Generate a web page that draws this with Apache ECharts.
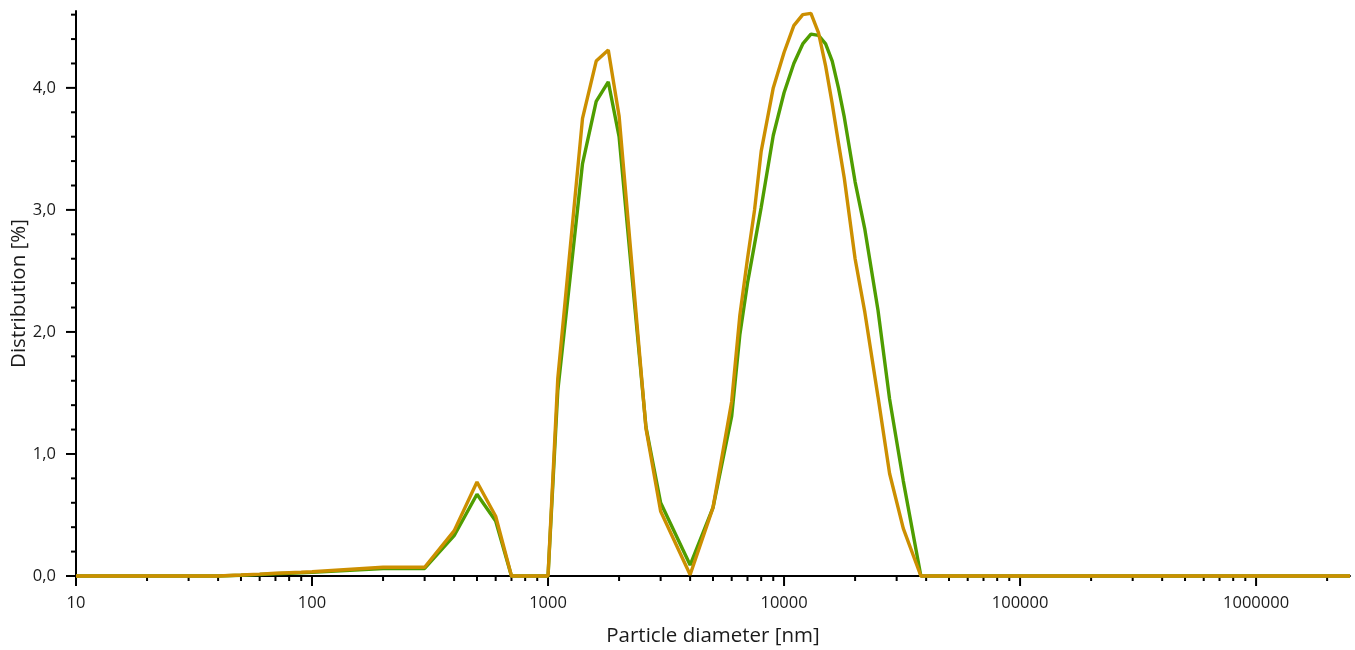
<!DOCTYPE html>
<html>
<head>
<meta charset="utf-8">
<script src="https://cdn.jsdelivr.net/npm/echarts@6/dist/echarts.min.js"></script>
<style>
html,body{margin:0;padding:0;background:#fff;}
#chart{width:1355px;height:650px;}
</style>
</head>
<body>
<div id="chart"></div>
<script>
// Particle diameters [nm]
const sizes = [10, 20, 30, 40, 50, 60, 70, 80, 90, 100, 200, 300, 400, 500, 600, 700, 800, 900, 1000,
  1100, 1400, 1600, 1800, 2000, 2600, 3000, 4000, 5000, 6000, 6500, 7000, 7500, 8000, 9000,
  10000, 11000, 12000, 13000, 14000, 15000, 16000, 17000, 18000, 20000, 22000, 25000, 28000, 32000, 38000,
  100000, 1000000, 2500000];

// Distribution [%] - green series
const greenValues = [0, 0, 0, 0, 0.006, 0.012, 0.018, 0.022, 0.026, 0.03, 0.062, 0.062, 0.33, 0.67, 0.45, 0, 0, 0, 0,
  1.52, 3.38, 3.89, 4.05, 3.60, 1.22, 0.60, 0.09, 0.56, 1.31, 1.98, 2.40, 2.72, 3.02, 3.61,
  3.96, 4.20, 4.36, 4.44, 4.43, 4.36, 4.22, 4.00, 3.76, 3.23, 2.84, 2.18, 1.45, 0.78, 0,
  0, 0, 0];

// Distribution [%] - orange series
const orangeValues = [0, 0, 0, 0, 0.008, 0.015, 0.022, 0.027, 0.031, 0.035, 0.072, 0.072, 0.37, 0.77, 0.49, 0, 0, 0, 0,
  1.62, 3.75, 4.22, 4.31, 3.77, 1.21, 0.53, 0.01, 0.56, 1.43, 2.14, 2.60, 3.00, 3.48, 4.00,
  4.29, 4.51, 4.60, 4.61, 4.45, 4.18, 3.87, 3.55, 3.26, 2.60, 2.16, 1.47, 0.84, 0.39, 0,
  0, 0, 0];

// Axis ticks and labels
const xTickLabels = ['10', '100', '1000', '10000', '100000', '1000000'];
const xMajorTicks = [10, 100, 1000, 10000, 100000, 1000000];
const xMinorTicks = [20, 30, 40, 50, 60, 70, 80, 90,
  200, 300, 400, 500, 600, 700, 800, 900,
  2000, 3000, 4000, 5000, 6000, 7000, 8000, 9000,
  20000, 30000, 40000, 50000, 60000, 70000, 80000, 90000,
  200000, 300000, 400000, 500000, 600000, 700000, 800000, 900000,
  2000000];
const yTickLabels = ['0,0', '1,0', '2,0', '3,0', '4,0'];
const yMajorTicks = [0, 1, 2, 3, 4];
const yMinorTicks = [0.2, 0.4, 0.6, 0.8, 1.2, 1.4, 1.6, 1.8, 2.2, 2.4, 2.6, 2.8, 3.2, 3.4, 3.6, 3.8, 4.2, 4.4, 4.6];

const X_MIN = 10, X_MAX = 2500000, Y_MIN = 0, Y_MAX = 4.63;

const pair = (vals) => sizes.map((s, i) => [s, vals[i]]);

// tick data: [x, y, length, orientation(0 = x-axis tick, 1 = y-axis tick)]
const tickData = [];
xMajorTicks.forEach(v => tickData.push([v, Y_MIN, 10, 0]));
xMinorTicks.forEach(v => tickData.push([v, Y_MIN, 5, 0]));
yMajorTicks.forEach(v => tickData.push([X_MIN, v, 10, 1]));
yMinorTicks.forEach(v => tickData.push([X_MIN, v, 5, 1]));

const chart = echarts.init(document.getElementById('chart'), null, {renderer: 'canvas'});
const fontFamily = '"Open Sans", "Noto Sans", sans-serif';

chart.setOption({
  animation: false,
  backgroundColor: '#ffffff',
  grid: {left: 76, right: 5, top: 11, bottom: 74, containLabel: false, outerBoundsMode: 'none'},
  xAxis: {
    type: 'log',
    logBase: 10,
    min: X_MIN,
    max: X_MAX,
    name: 'Particle diameter [nm]',
    nameLocation: 'middle',
    nameGap: 50,
    nameMoveOverlap: false,
    nameTextStyle: {fontFamily, fontSize: 20.5, color: '#1a1a1a'},
    axisLine: {show: true, onZero: false, lineStyle: {color: '#000', width: 2}},
    axisTick: {show: false},
    minorTick: {show: false},
    splitLine: {show: false},
    axisLabel: {
      fontFamily, fontSize: 16.5, color: '#1a1a1a', margin: 19,
      showMaxLabel: false,
      formatter: (v) => {
        const s = String(Math.round(v));
        return xTickLabels.indexOf(s) >= 0 ? s : '';
      }
    }
  },
  yAxis: {
    type: 'value',
    min: Y_MIN,
    max: Y_MAX,
    interval: 1,
    name: 'Distribution [%]',
    nameLocation: 'middle',
    nameGap: 46,
    nameMoveOverlap: false,
    nameTextStyle: {fontFamily, fontSize: 20.5, color: '#1a1a1a'},
    axisLine: {show: true, lineStyle: {color: '#000', width: 2}},
    axisTick: {show: false},
    splitLine: {show: false},
    axisLabel: {
      fontFamily, fontSize: 16.5, color: '#1a1a1a', margin: 20,
      showMaxLabel: false,
      formatter: (v) => {
        const r = Math.round(v * 10) / 10;
        const s = r.toFixed(1).replace('.', ',');
        return (Math.abs(v - Math.round(v)) < 1e-6 && yTickLabels.indexOf(s) >= 0) ? s : '';
      }
    }
  },
  series: [
    {
      type: 'custom',
      name: 'ticks',
      silent: true,
      clip: false,
      encode: {x: 0, y: 1},
      data: tickData,
      renderItem: (params, api) => {
        const p = api.coord([api.value(0), api.value(1)]);
        const len = api.value(2);
        const isY = api.value(3) === 1;
        return {
          type: 'line',
          shape: isY ? {x1: p[0] - len, y1: p[1], x2: p[0], y2: p[1]}
                     : {x1: p[0], y1: p[1], x2: p[0], y2: p[1] + len},
          style: {stroke: '#000', lineWidth: 2}
        };
      },
      z: 1
    },
    {
      type: 'line',
      name: 'Measurement 1',
      data: pair(greenValues),
      showSymbol: false,
      clip: false,
      lineStyle: {color: '#4f9d00', width: 3.4},
      itemStyle: {color: '#4f9d00'},
      z: 3
    },
    {
      type: 'line',
      name: 'Measurement 2',
      data: pair(orangeValues),
      showSymbol: false,
      clip: false,
      lineStyle: {color: '#cc8f00', width: 3.4},
      itemStyle: {color: '#cc8f00'},
      z: 4
    }
  ]
});
</script>
</body>
</html>
